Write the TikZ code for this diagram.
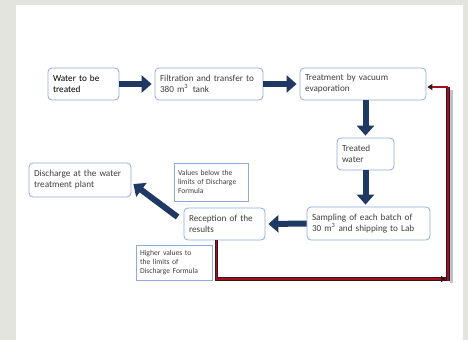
\documentclass[tikz,border=0pt]{standalone}
\usepackage{fontspec}
\setmainfont{Carlito}
\usetikzlibrary{arrows.meta,calc}
\definecolor{bgray}{HTML}{E4E4DF}
\definecolor{boxline}{HTML}{8FAADC}
\definecolor{navy}{HTML}{203864}
\definecolor{txt}{HTML}{404040}
\definecolor{redline}{HTML}{A01020}
\definecolor{redout}{HTML}{3A1418}
\definecolor{shadowc}{HTML}{B8C4D4}
\tikzset{
  procbox/.style={draw=boxline, line width=0.8pt, rounded corners=4pt, fill=white,
    align=left, text=txt, font=\fontsize{9.2}{11}\selectfont, inner xsep=5pt, inner ysep=0pt,
    minimum height=32pt},
  notebox/.style={draw=boxline, line width=0.8pt, fill=white,
    align=left, text=txt, font=\fontsize{7.6}{9}\selectfont, inner xsep=4pt, inner ysep=0pt},
  bigarrow/.style={draw=navy, line width=6pt, -{Triangle[width=17pt,length=10pt]}},
  redshadow/.style={draw=shadowc, line width=3pt},
  redouter/.style={draw=redout, line width=3.2pt},
  redinner/.style={draw=redline, line width=1.8pt},
}
\begin{document}
\begin{tikzpicture}[x=1pt,y=-1pt]
\useasboundingbox (0,0) rectangle (468,340);
\fill[bgray] (0,0) rectangle (468,340);
\fill[white] (16,5) rectangle (463,340);

\node[procbox, minimum width=71pt, text width=61pt, text=black] (water) at (83.5,84) {Water to be\\treated};
\node[procbox, minimum width=108pt, text width=98pt] (filt) at (209,84) {Filtration and transfer to\\380 m\textsuperscript{3}\, tank};
\node[procbox, minimum width=126pt, text width=116pt] (treat) at (363,84) {Treatment by vacuum\\evaporation};
\node[procbox, minimum width=57pt, text width=47pt] (treated) at (365.5,154) {Treated\\water};
\node[procbox, minimum width=123pt, text width=113pt, minimum height=33pt] (sampling) at (368.5,223.5) {Sampling of each batch of\\30 m\textsuperscript{3} and shipping to Lab};
\node[procbox, minimum width=81pt, text width=71pt] (reception) at (224.5,224) {Reception of the\\results};
\node[procbox, minimum width=102pt, text width=92pt, minimum height=34pt] (discharge) at (80,180) {Discharge at the water\\treatment plant};
\node[notebox, minimum width=74pt, text width=66pt, minimum height=38pt] (below) at (211,182) {Values below the\\limits of Discharge\\Formula};
\node[notebox, minimum width=76pt, text width=68pt, minimum height=35pt] (higher) at (174,262.5) {Higher values to\\the limits of\\Discharge Formula};

% navy arrows
\draw[bigarrow] (water.east) -- ($(filt.west)+(-3,0)$);
\draw[bigarrow] (filt.east) -- ($(treat.west)+(-3,0)$);
\draw[bigarrow] (treat.south -| treated.north) -- ($(treated.north)+(0,-2)$);
\draw[bigarrow] (treated.south) -- ($(sampling.north -| treated.south)+(0,-2)$);
\draw[bigarrow] (sampling.west) -- ($(reception.east)+(3,0)$);
\draw[bigarrow] ($(reception.west)+(-6,-7)$) -- ($(discharge.east)+(2,4)$);

% red return connector
\coordinate (r0) at ($(reception.south)+(-8,0)$);
\coordinate (r1) at (446,279);
\coordinate (r2) at (448,281);
\coordinate (r3) at (448,87);
\coordinate (r4) at ($(treat.east)+(1,3)$);
\draw[redshadow] (451,90) -- (451,283);
\draw[redouter] (r0) -- (r0 |- r1) -- (r1);
\draw[redinner] (r0) -- (r0 |- r1) -- (r1);
\draw[redouter] (r2) -- (r3) -- (r4 -| r3);
\draw[redinner] (r2) -- (r3) -- (r4 -| r3);
\draw[draw=redout, line width=1.4pt, -{Triangle[width=6pt,length=5pt]}] ($(r1)+(-4,0)$) -- (r1);
\draw[draw=redout, line width=1.4pt, -{Triangle[width=6pt,length=5pt]}] ($(r4)+(6,0)$) -- (r4);
\draw[redinner] ($(r4)+(5,0)$) -- (r4 -| r3);
\end{tikzpicture}
\end{document}
